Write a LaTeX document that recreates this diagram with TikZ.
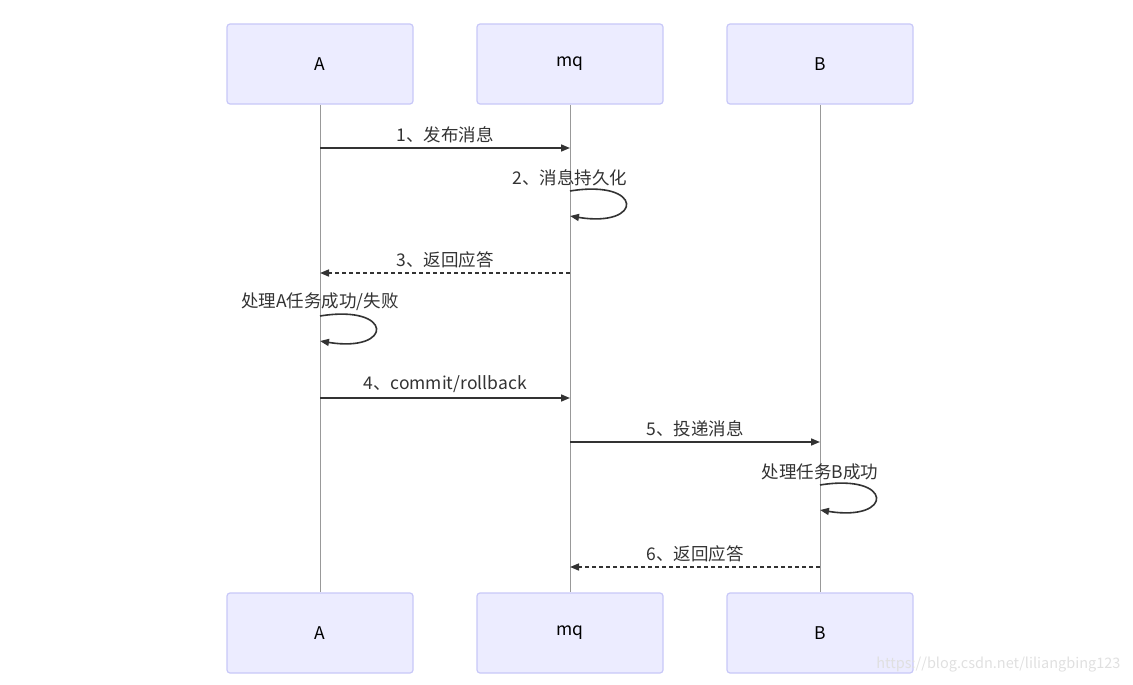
\documentclass[tikz,border=0pt]{standalone}
\usepackage{fontspec}
\setmainfont{Noto Sans CJK SC}
\usetikzlibrary{arrows.meta}

\definecolor{actorfill}{HTML}{ECECFF}
\definecolor{actorline}{HTML}{C8C8F8}
\definecolor{ink}{HTML}{333333}

\tikzset{
  actor/.style={draw=actorline, line width=1.2pt, fill=actorfill, rounded corners=3pt,
    minimum width=186pt, minimum height=80pt, font=\fontsize{17.5}{20}\selectfont},
  lifeline/.style={draw=black!40, line width=0.8pt},
  msg/.style={draw=ink, line width=1.6pt, -{Triangle[length=9pt,width=7pt]}},
  reply/.style={msg, dash pattern=on 4pt off 3pt},
  msgtext/.style={font=\fontsize{17.5}{20}\selectfont, text=ink, above=1pt}
}

\begin{document}
\begin{tikzpicture}[x=1pt, y=-1pt]
    \useasboundingbox (0,0) rectangle (1133,685);

    \node[actor] (A) at (320,64) {A};
    \node[actor] (mq) at (570,64) {mq};
    \node[actor] (B) at (820,64) {B};
    \node[actor] (Abot) at (320,633) {A};
    \node[actor] (mqbot) at (570,633) {mq};
    \node[actor] (Bbot) at (820,633) {B};

    \draw[lifeline] (A.south) -- (Abot.north);
    \draw[lifeline] (mq.south) -- (mqbot.north);
    \draw[lifeline] (B.south) -- (Bbot.north);

    \coordinate (m1) at (0,148);
    \coordinate (m2) at (0,191);
    \coordinate (m3) at (0,273);
    \coordinate (m4) at (0,316);
    \coordinate (m5) at (0,398);
    \coordinate (m6) at (0,442);
    \coordinate (m7) at (0,485);
    \coordinate (m8) at (0,567);

    \draw[msg] (A |- m1) -- node[msgtext] {1、发布消息} (mq |- m1);
    \draw[msg] (mq |- m2) node[msgtext, above=0pt] {2、消息持久化}
      .. controls +(74,-12) and +(74,12) .. ++(0,25);
    \draw[reply] (mq |- m3) -- node[msgtext] {3、返回应答} (A |- m3);
    \draw[msg] (A |- m4) node[msgtext, above=0pt] {处理A任务成功/失败}
      .. controls +(74,-12) and +(74,12) .. ++(0,25);
    \draw[msg] (A |- m5) -- node[msgtext] {4、commit/rollback} (mq |- m5);
    \draw[msg] (mq |- m6) -- node[msgtext] {5、投递消息} (B |- m6);
    \draw[msg] (B |- m7) node[msgtext, above=0pt] {处理任务B成功}
      .. controls +(74,-12) and +(74,12) .. ++(0,25);
    \draw[reply] (B |- m8) -- node[msgtext] {6、返回应答} (mq |- m8);

    \node[font=\fontsize{14.5}{17}\selectfont, text=black!12, anchor=east] (mark)
      at (1124,665) {https://blog.csdn.net/liliangbing123};
\end{tikzpicture}
\end{document}
